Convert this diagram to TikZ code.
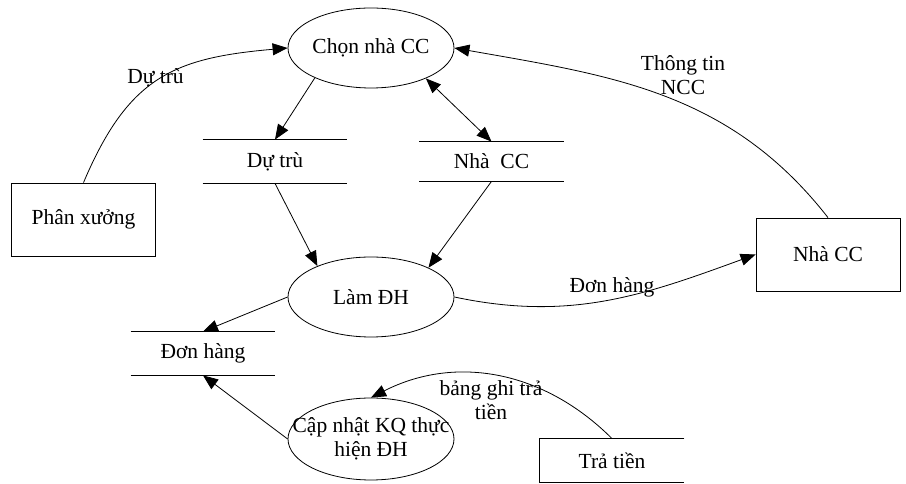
\documentclass[tikz,border=0pt]{standalone}
\usepackage{fontspec}
\setmainfont{Liberation Serif}
\usetikzlibrary{shapes.geometric,arrows.meta}

\begin{document}
\begin{tikzpicture}[x=1pt,y=1pt,line width=0.8pt,
    every node/.style={font=\fontsize{21.5}{24}\selectfont},
    proc/.style={draw, ellipse, minimum width=166pt, minimum height=80pt, inner sep=0pt},
    agent/.style={draw, rectangle, minimum width=144pt, minimum height=73pt, inner sep=0pt},
    store/.style={minimum width=144pt, minimum height=43pt, inner sep=0pt},
    flow/.style={-{Triangle[length=15pt,width=12pt]}},
    both/.style={{Triangle[length=15pt,width=12pt]}-{Triangle[length=15pt,width=12pt]}}]
  \useasboundingbox (0,0) rectangle (906,484);

  \node[proc] (chon) at (371,436) {Chọn nhà CC};
  \node[proc] (lam) at (371,187) {Làm ĐH};
  \node[proc, minimum height=82pt, align=center] (capnhat) at (371,45)
    {\makebox[0pt]{Cập nhật KQ thực}\\\makebox[0pt]{hiện ĐH}};
  \node[agent] (phanxuong) at (83.5,264.5) {Phân xưởng};
  \node[agent] (nhaccbox) at (828,229.5) {Nhà CC};
  \node[store] (tratien) at (612,23.5) {Trả tiền};
  \node[store] (dutru) at (275,322.5) {Dự trù};
  \node[store, minimum height=39pt] (nhacc) at (491.5,322.5) {Nhà~~CC};
  \node[store] (donhang) at (203,130.5) {Đơn hàng};

  \foreach \s in {dutru,nhacc,donhang}
    \draw (\s.north west) -- (\s.north east) (\s.south west) -- (\s.south east);
  \draw (tratien.north east) -- (tratien.north west) -- (tratien.south west) -- (tratien.south east);

  \node (lbdutru) at (155.5,406) {Dự trù};
  \node[align=center] (lbthongtin) at (683,409) {Thông tin\\NCC};
  \node (lbdonhang) at (612,197) {Đơn hàng};
  \node[align=center] (lbbangghi) at (491,84) {bảng ghi trả\\tiền};

  \draw[flow] (phanxuong.north) to[out=67,in=185,looseness=1.2] (chon.west);
  \draw[flow] (nhaccbox.north) to[out=128,in=-10] (chon.east);
  \draw[flow] (chon.208) -- (dutru.north);
  \draw[both] (chon.331) -- (nhacc.north);
  \draw[flow] (dutru.south) -- (lam.150);
  \draw[flow] (nhacc.south) -- (lam.27);
  \draw[flow] (lam.east) to[out=-12,in=200] (nhaccbox.west);
  \draw[flow] (lam.west) -- (donhang.north);
  \draw[flow] (capnhat.west) -- (donhang.south);
  \draw[flow] (tratien.north) to[out=135,in=27] (capnhat.north);
\end{tikzpicture}
\end{document}
